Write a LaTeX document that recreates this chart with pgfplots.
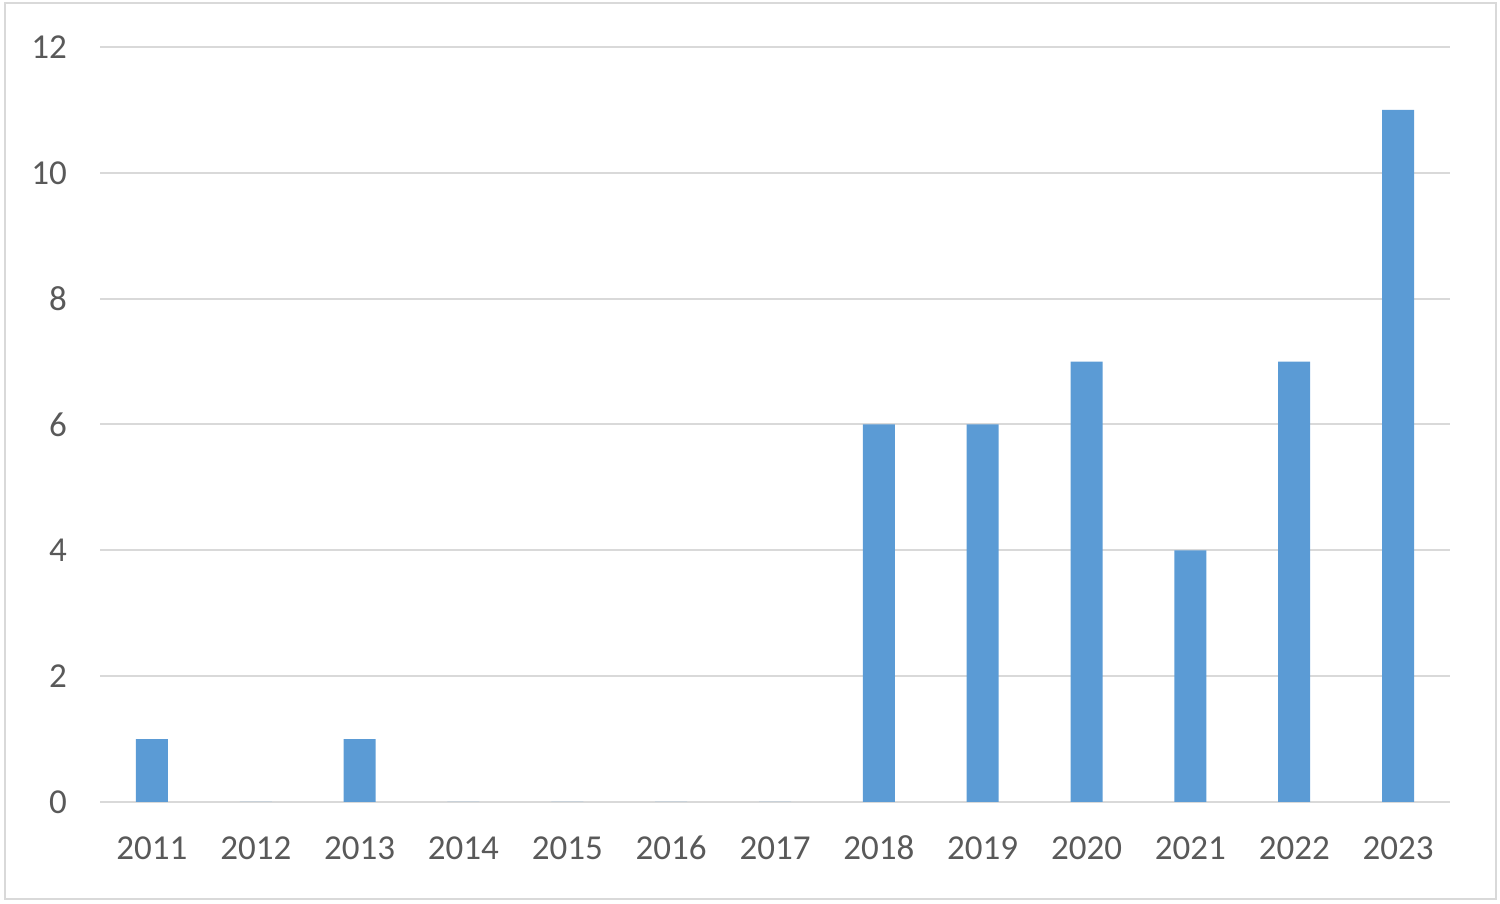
\documentclass[border=0pt]{standalone}
\usepackage{pgfplots}
\pgfplotsset{compat=1.18}
\usepackage{fontspec}
\setmainfont{Carlito}
\definecolor{barblue}{HTML}{5B9BD5}
\definecolor{txt}{HTML}{595959}
\definecolor{gridc}{HTML}{D9D9D9}
\begin{document}
\begin{tikzpicture}
\useasboundingbox (0,0) rectangle (750pt,452pt);
\draw[gridc, line width=1pt] (2.5pt,2.5pt) rectangle (748pt,450.5pt);
\begin{axis}[
  at={(50pt,51pt)}, anchor=south west,
  scale only axis, width=675pt, height=377.5pt,
  ymin=0, ymax=12, ytick={0,2,...,12},
  xmin=-0.5, xmax=12.5,
  xtick={0,...,12},
  xticklabels={2011,2012,2013,2014,2015,2016,2017,2018,2019,2020,2021,2022,2023},
  ybar, bar width=16pt, bar shift=0pt,
  axis line style={draw=none},
  axis x line*=bottom,
  ymajorgrids, grid style={gridc, line width=1pt},
  major tick length=0pt,
  tick label style={font=\fontsize{17.5}{20}\selectfont, text=txt},
  /pgf/number format/assume math mode=true,
  yticklabel style={xshift=-13pt},
  xticklabel style={yshift=-13pt, text height=12pt, text depth=0pt},
  clip=false,
]
\addplot[fill=barblue, draw=none] coordinates {
(0,1) (1,0) (2,1) (3,0) (4,0) (5,0) (6,0) (7,6) (8,6) (9,7) (10,4) (11,7) (12,11)};
\end{axis}
\end{tikzpicture}
\end{document}
